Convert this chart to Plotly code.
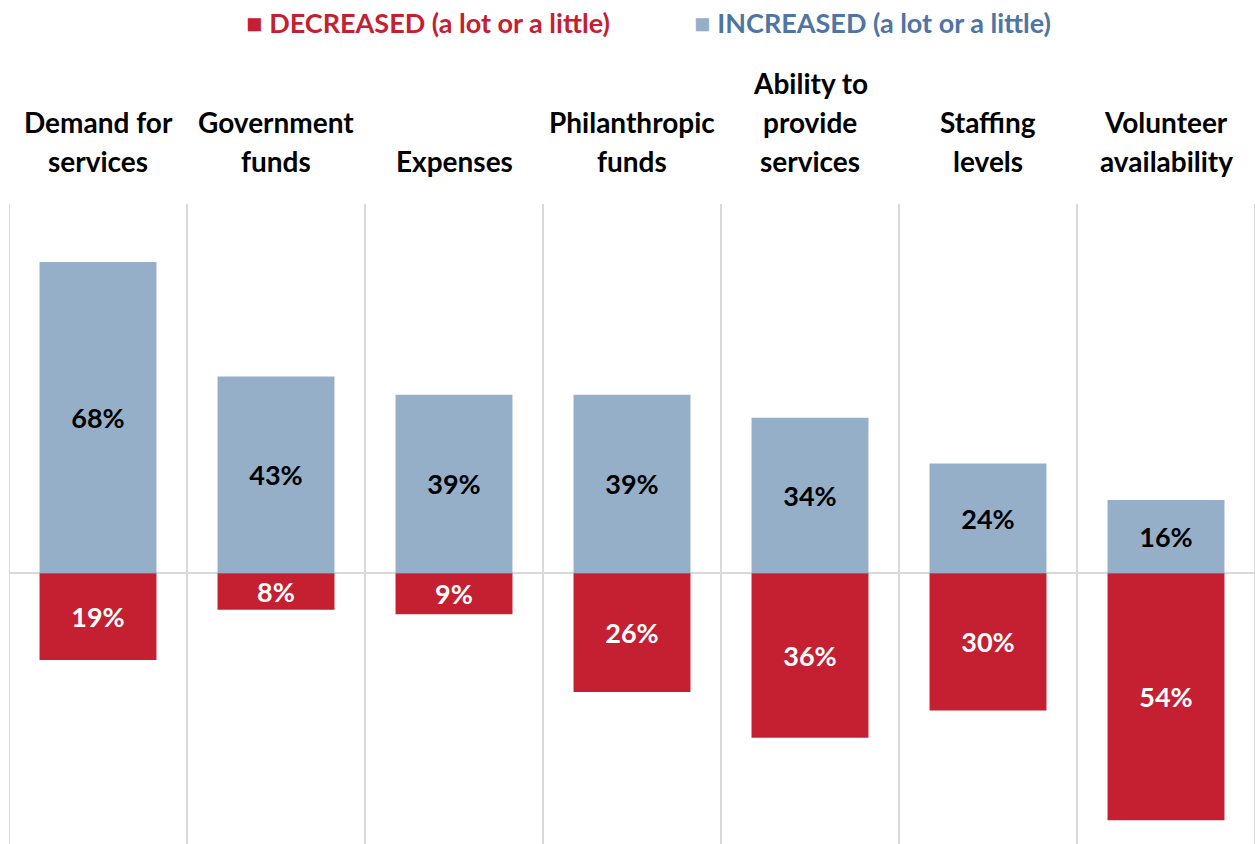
import plotly.graph_objects as go

# Survey categories, split into header lines
categories = ["Demand for services", "Government funds", "Expenses", "Philanthropic funds",
              "Ability to provide services", "Staffing levels", "Volunteer availability"]
header_lines = [
    ["Demand for", "services"],
    ["Government", "funds"],
    ["Expenses"],
    ["Philanthropic", "funds"],
    ["Ability to", "provide", "services"],
    ["Staffing", "levels"],
    ["Volunteer", "availability"],
]
increased = [68, 43, 39, 39, 34, 24, 16]
decreased = [19, 8, 9, 26, 36, 30, 54]

RED = "#C52032"
BLUE = "#95AFC9"
BLUE_TEXT = "#4F75A3"
GRID = "#D9D9D9"
FONT = "Lato"

fig = go.Figure()
fig.add_trace(go.Bar(
    x=categories, y=increased, name="INCREASED (a lot or a little)",
    marker=dict(color=BLUE, line=dict(width=0)),
    text=[f"{v}%" for v in increased], textposition="inside",
    insidetextanchor="middle", textangle=0, constraintext="none",
    textfont=dict(family=FONT, size=27, color="black", weight="bold"),
))
fig.add_trace(go.Bar(
    x=categories, y=[-v for v in decreased], name="DECREASED (a lot or a little)",
    marker=dict(color=RED, line=dict(width=0)),
    text=[f"{v}%" for v in decreased], textposition="inside",
    insidetextanchor="middle", textangle=0, constraintext="none",
    textfont=dict(family=FONT, size=27, color="white", weight="bold"),
))

# Column separators
for i in range(len(categories) + 1):
    fig.add_shape(type="line", xref="x", yref="paper", x0=i - 0.5, x1=i - 0.5,
                  y0=0, y1=1, line=dict(color=GRID, width=2), layer="below")

# Column headers, bottom-aligned above the plot
line_step = 39
for i, lines in enumerate(header_lines):
    n = len(lines)
    for j, txt in enumerate(lines):
        fig.add_annotation(x=i, xref="x", y=1, yref="paper", yanchor="middle",
                           xanchor="center",
                           yshift=204 - 161 + (n - 1 - j) * line_step,
                           text=f"<b>{txt}</b>", showarrow=False,
                           font=dict(family=FONT, size=28, color="black"))

# Legend row
fig.add_annotation(xref="paper", yref="paper", x=(428 - 9) / 1246, y=1, yshift=204 - 22,
                   xanchor="center", yanchor="middle", showarrow=False,
                   text="■ <b>DECREASED (a lot or a little)</b>",
                   font=dict(family=FONT, size=27, color=RED))
fig.add_annotation(xref="paper", yref="paper", x=(872 - 9) / 1246, y=1, yshift=204 - 22,
                   xanchor="center", yanchor="middle", showarrow=False,
                   text=f"<span style='color:{BLUE}'>■</span> <b>INCREASED (a lot or a little)</b>",
                   font=dict(family=FONT, size=27, color=BLUE_TEXT))

fig.update_layout(
    width=1255, height=844,
    margin=dict(l=9, r=0, t=204, b=0),
    barmode="relative", bargap=0.343,
    plot_bgcolor="white", paper_bgcolor="white",
    showlegend=False,
    xaxis=dict(visible=False, range=[-0.5, 6.5]),
    yaxis=dict(range=[-59.2, 80.7], showgrid=False, showticklabels=False,
               zeroline=True, zerolinecolor=GRID, zerolinewidth=2),
)

fig.write_html("out.html")
